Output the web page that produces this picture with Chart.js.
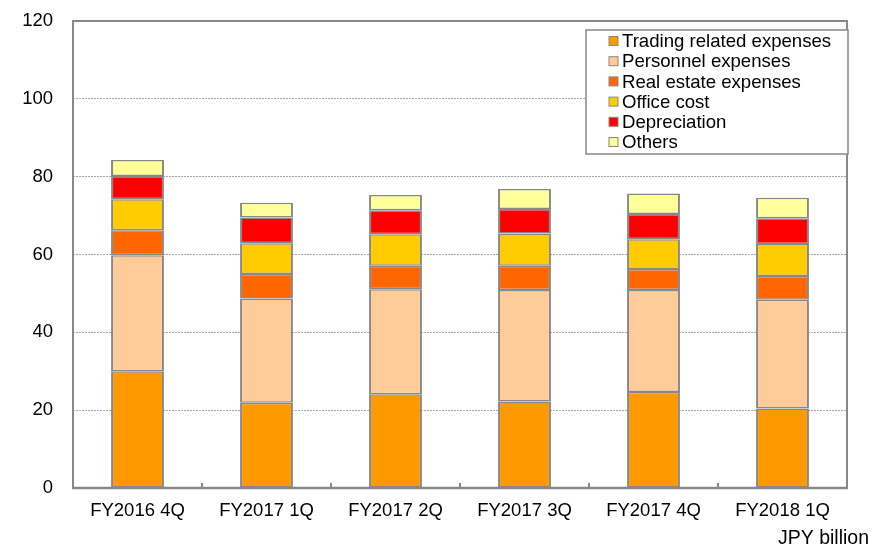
<!DOCTYPE html>
<html>
<head>
<meta charset="utf-8">
<script src="https://cdn.jsdelivr.net/npm/chart.js@4/dist/chart.umd.min.js"></script>
<style>
  html, body { margin: 0; padding: 0; background: #ffffff; }
  #wrap { width: 873px; height: 549px; }
</style>
</head>
<body>
<div id="wrap"><canvas id="chartCustos" width="873" height="549"></canvas></div>
<script>
// dados (JPY billion)
const categorias = ['FY2016 4Q', 'FY2017 1Q', 'FY2017 2Q', 'FY2017 3Q', 'FY2017 4Q', 'FY2018 1Q'];
const trading     = [30.0, 21.9, 24.1, 22.2, 24.7, 20.4];
const personnel   = [29.8, 26.8, 27.0, 28.7, 26.2, 28.0];
const realEstate  = [6.4, 6.3, 6.0, 6.2, 5.4, 6.1];
const officeCost  = [8.0, 7.9, 8.1, 8.3, 7.6, 8.2];
const depreciacao = [6.0, 6.6, 6.2, 6.3, 6.5, 6.6];
const outros      = [4.1, 3.8, 3.9, 5.1, 5.3, 5.3];
const yTicks = [0, 20, 40, 60, 80, 100, 120];

const FONTE = '"Liberation Sans", Arial, sans-serif';
const CINZA = '#888888';

const serie = (label, data, cor) => ({
  label,
  data,
  backgroundColor: cor,
  borderColor: CINZA,
  borderWidth: { top: 1.5, bottom: 1.5, left: 2, right: 2 },
  borderSkipped: false,
  categoryPercentage: 1,
  barPercentage: 0.41,
});

// moldura, marcas do eixo x, legenda e unidade
const extrasPlugin = {
  id: 'extras',
  afterDraw(chart) {
    const { ctx, chartArea: a, scales } = chart;
    const x = scales.x;
    ctx.save();

    ctx.strokeStyle = CINZA;
    ctx.lineWidth = 2;
    ctx.strokeRect(a.left, a.top, a.right - a.left, a.bottom - a.top);
    ctx.lineWidth = 2.5;
    ctx.beginPath();
    ctx.moveTo(a.left - 1, a.bottom);
    ctx.lineTo(a.right + 1, a.bottom);
    ctx.stroke();

    ctx.lineWidth = 2;
    for (let i = 1; i < categorias.length; i++) {
      const px = (x.getPixelForValue(i - 1) + x.getPixelForValue(i)) / 2;
      ctx.beginPath();
      ctx.moveTo(px, a.bottom);
      ctx.lineTo(px, a.bottom - 5);
      ctx.stroke();
    }

    // legenda
    const lx = 586, ly = 30, lw = 262, lh = 124;
    ctx.fillStyle = '#ffffff';
    ctx.fillRect(lx, ly, lw, lh);
    ctx.strokeStyle = CINZA;
    ctx.lineWidth = 1.5;
    ctx.strokeRect(lx, ly, lw, lh);
    ctx.font = '18.6px ' + FONTE;
    ctx.textBaseline = 'middle';
    ctx.textAlign = 'left';
    chart.data.datasets.forEach((ds, i) => {
      const cy = ly + 11 + i * 20.2;
      ctx.fillStyle = ds.backgroundColor;
      ctx.fillRect(609, cy - 4.5, 9, 9);
      ctx.strokeStyle = CINZA;
      ctx.lineWidth = 1;
      ctx.strokeRect(609, cy - 4.5, 9, 9);
      ctx.fillStyle = '#000000';
      ctx.fillText(ds.label, 622, cy + 1);
    });

    ctx.textAlign = 'right';
    ctx.font = '19.5px ' + FONTE;
    ctx.fillText('JPY billion', 869, 539);
    ctx.restore();
  }
};

new Chart(document.getElementById('chartCustos'), {
  type: 'bar',
  data: {
    labels: categorias,
    datasets: [
      serie('Trading related expenses', trading, '#FF9900'),
      serie('Personnel expenses', personnel, '#FFCC99'),
      serie('Real estate expenses', realEstate, '#FF6600'),
      serie('Office cost', officeCost, '#FFCC00'),
      serie('Depreciation', depreciacao, '#FF0000'),
      serie('Others', outros, '#FFFF99'),
    ],
  },
  options: {
    responsive: false,
    animation: false,
    devicePixelRatio: 1,
    layout: { padding: { top: 21, right: 26, left: 0, bottom: 0 } },
    plugins: {
      legend: { display: false },
      tooltip: { enabled: false },
    },
    scales: {
      x: {
        stacked: true,
        grid: { display: false, drawTicks: false },
        border: { display: false },
        ticks: { color: '#000000', font: { family: FONTE, size: 18.5 }, padding: 12, maxRotation: 0 },
        afterFit: (s) => { s.height = 61; s.paddingLeft = 0; s.paddingRight = 0; },
      },
      y: {
        stacked: true,
        min: 0,
        max: 120,
        afterBuildTicks: (s) => { s.ticks = yTicks.map((v) => ({ value: v })); },
        grid: { color: '#a6a6a6', lineWidth: 1, drawTicks: false },
        border: { display: false, dash: [2, 1] },
        ticks: { color: '#000000', font: { family: FONTE, size: 18.5 }, padding: 20 },
        // o padding dos ticks empurrava o topo do gráfico para baixo
        afterFit: (s) => { s.width = 73; s.paddingTop = 0; s.paddingBottom = 0; },
      },
    },
  },
  plugins: [extrasPlugin],
});
</script>
</body>
</html>
